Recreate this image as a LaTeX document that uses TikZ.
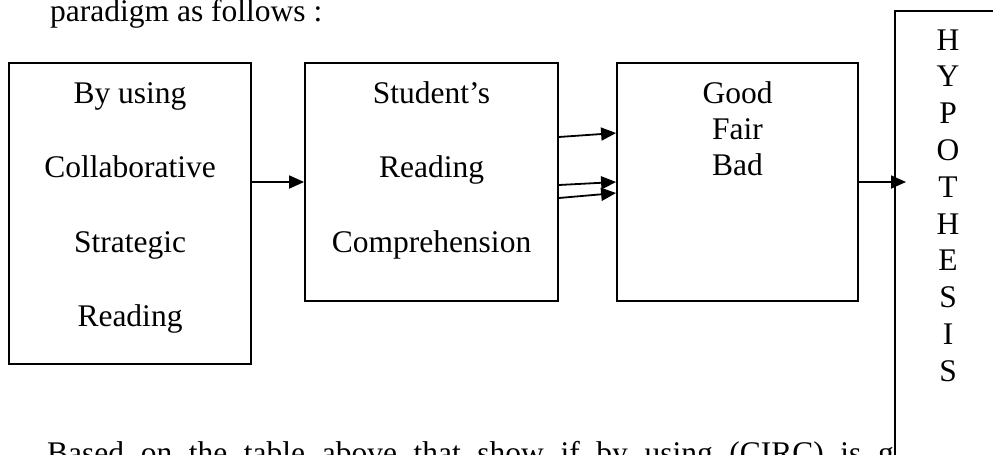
\documentclass[tikz,border=0pt]{standalone}
\usepackage{fontspec}
\setmainfont{Liberation Serif}
\usetikzlibrary{arrows.meta,calc}
\begin{document}
\begin{tikzpicture}[x=1pt,y=-1pt,
  box/.style={draw,line width=1.8pt,inner sep=0pt,fill=white},
  txt/.style={anchor=base,inner sep=0pt,font=\fontsize{31.5}{36}\selectfont},
  arr/.style={line width=1.8pt,-{Triangle[length=15pt,width=13pt]}}]
\useasboundingbox (0,0) rectangle (993,455);
% top text
\node[txt,anchor=base west] (para1) at (50,21) {paradigm as follows :};
% boxes
\node[box,minimum width=242pt,minimum height=301pt] (b1) at (130,213.5) {};
\node[box,minimum width=253pt,minimum height=238pt] (b2) at (431.5,182) {};
\node[box,minimum width=241pt,minimum height=238pt] (b3) at (737.5,182) {};
% box texts
\node[txt] (t11) at (130,103) {By using};
\node[txt] (t12) at (130,177) {Collaborative};
\node[txt] (t13) at (130,252) {Strategic};
\node[txt] (t14) at (130,326) {Reading};
\node[txt] (t21) at (431.5,103) {Student’s};
\node[txt] (t22) at (431.5,177) {Reading};
\node[txt] (t23) at (431.5,252) {Comprehension};
\node[txt] (t31) at (737.5,103) {Good};
\node[txt] (t32) at (737.5,139) {Fair};
\node[txt] (t33) at (737.5,175) {Bad};
% hypothesis box (partly off the page)
\draw[line width=1.8pt] (993,11) -- (895,11) -- (895,455);
\coordinate (hyp) at (906,182);
\foreach \ch [count=\i from 0] in {H,Y,P,O,T,H,E,S,I,S}
  \node[txt] (h\i) at (948,{50+\i*36.8}) {\ch};
% bottom text, cut by the hypothesis box
\begin{scope}
\clip (0,0) rectangle (894,455);
\node[txt,anchor=base west] (para2) at (47,463) {\spaceskip=16.6pt\relax Based on the table above that show if by using (CIRC) is g};
\end{scope}
% arrows
\draw[arr] (b1.east |- b2.west) -- (b2.west);
\draw[arr] ($(b2.east)+(0,-45)$) -- ($(b3.west)+(0,-49)$);
\draw[arr] ($(b2.east)+(0,3)$) -- ($(b3.west)+(0,0)$);
\draw[arr] ($(b2.east)+(0,16)$) -- ($(b3.west)+(0,11)$);
\draw[arr] (b3.east) -- (hyp);
\end{tikzpicture}
\end{document}
